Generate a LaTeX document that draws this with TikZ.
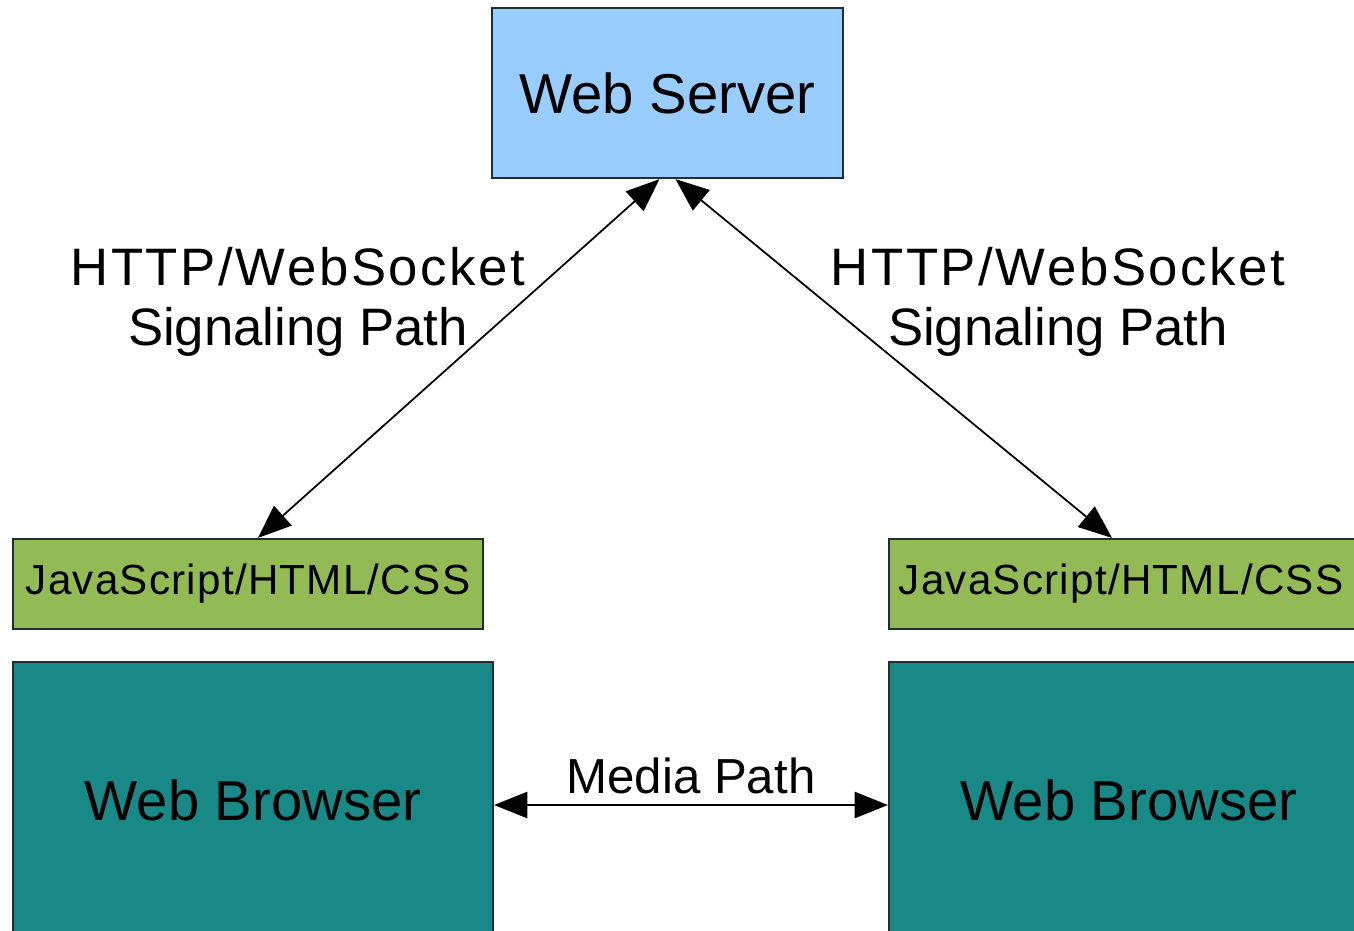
\documentclass[tikz,border=0pt]{standalone}
\usepackage{fontspec}
\setmainfont{Liberation Sans}
\usepackage{tikz}
\usetikzlibrary{arrows.meta, positioning}

\definecolor{serverblue}{RGB}{153,204,255}
\definecolor{scriptgreen}{RGB}{147,187,85}
\definecolor{browserteal}{RGB}{25,137,135}
\definecolor{boxline}{RGB}{30,48,48}

\begin{document}
\begin{tikzpicture}[x=0.02cm, y=-0.02cm,
    box/.style={draw=boxline, line width=1.3pt, inner sep=0pt, align=center},
    serverbox/.style={box, fill=serverblue, minimum width=7.02cm, minimum height=3.4cm,
      font=\fontsize{32}{38}\selectfont},
    scriptbox/.style={box, fill=scriptgreen, minimum width=9.4cm, minimum height=1.8cm,
      font=\fontsize{24}{28}\selectfont\addfontfeature{LetterSpace=3}},
    browserbox/.style={box, fill=browserteal, minimum width=9.6cm, minimum height=5.52cm,
      font=\fontsize{32}{38}\selectfont},
    pathlabel/.style={align=center, font=\fontsize{30}{34}\selectfont},
    link/.style={line width=1pt, {Triangle[length=19pt, width=15pt]}-{Triangle[length=19pt, width=15pt]}}]

  % Fix the page size
  \useasboundingbox (0,0) rectangle (1354,930);
  \clip (0,0) rectangle (1354,930);

  % Draw the server
  \node[serverbox] (server) at (667.5,93) {Web Server};

  % Draw the script layers
  \node[scriptbox] (jsleft) at (248,584) {JavaScript/HTML/CSS};
  \node[scriptbox] (jsright) at (1124,584) {\hspace*{-0.12cm}JavaScript/HTML/CSS};

  % Draw the browsers (cut off by the page bottom)
  \node[browserbox] (browserleft) at (253,800) {Web Browser};
  \node[browserbox] (browserright) at (1129,800) {Web Browser};

  % Signaling paths
  \draw[link] ([xshift=-0.16cm]server.south) -- ([xshift=0.2cm]jsleft.north);
  \draw[link] ([xshift=0.16cm]server.south) -- ([xshift=-0.24cm]jsright.north);
  \node[pathlabel] (sigleft) at (298,302) {{\addfontfeature{LetterSpace=5}HTTP/WebSocket}\\Signaling Path};
  \node[pathlabel] (sigright) at (1058,302) {{\addfontfeature{LetterSpace=5}HTTP/WebSocket}\\Signaling Path};

  % Media path
  \draw[link] ([yshift=-0.1cm]browserleft.east) -- ([yshift=-0.1cm]browserright.west)
    node[midway, above, inner sep=6pt, font=\fontsize{28}{32}\selectfont] (media) {Media Path};
\end{tikzpicture}
\end{document}
